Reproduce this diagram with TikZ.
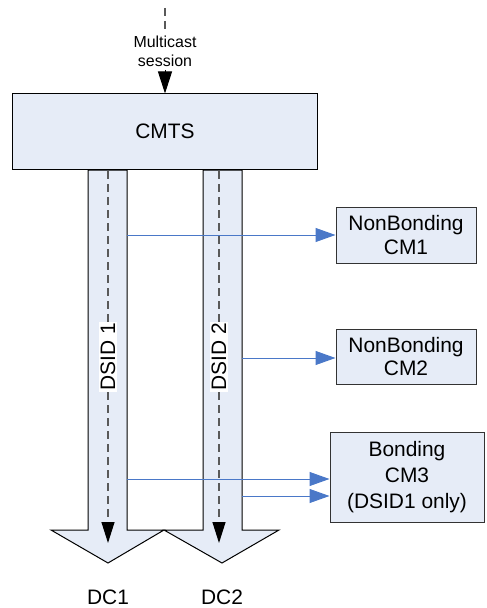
\documentclass[tikz,border=0pt]{standalone}
\usepackage{fontspec}
\setmainfont{Liberation Sans}
\usetikzlibrary{arrows.meta}
\definecolor{boxfill}{HTML}{E6ECF7}
\definecolor{linkblue}{HTML}{4A78C8}

\begin{document}
\begin{tikzpicture}[x=1bp,y=-1bp,
  cmbox/.style={draw=black!80, fill=boxfill, line width=1bp, align=center, inner sep=0pt, font=\fontsize{21}{24}\selectfont},
  column/.style={draw=black, fill=boxfill, line width=1bp, line join=miter},
  flowline/.style={draw=black!65, line width=1.2bp, dash pattern=on 8bp off 5bp},
  link/.style={draw=linkblue, line width=1bp, -{Triangle[length=20bp,width=14bp]}},
  biglabel/.style={font=\fontsize{21}{24}\selectfont}]
\useasboundingbox (0,0) rectangle (487,608);
% headend
\node[draw=black, fill=boxfill, line width=1bp, minimum width=304bp, minimum height=75bp, biglabel] (cmts) at (165,131.5) {CMTS};
\node[font=\fontsize{16}{19}\selectfont, align=center] (msess) at (165,51) {Multicast\\session};
\coordinate (feed) at (165,8);
\draw[flowline] (feed) -- (msess.north);
\draw[line width=1bp, -{Triangle[length=22bp,width=14bp]}] (msess.south) -- (cmts.north);
% downstream channels
\draw[column] (88,170) -- (88,530) -- (51,530) -- (108,563) -- (164,530) -- (127,530) -- (127,170) -- cycle;
\draw[column] (203,170) -- (203,530) -- (164,530) -- (222,563) -- (279,530) -- (242,530) -- (242,170) -- cycle;
\coordinate (d1top) at (108,171);
\coordinate (d1end) at (108,543);
\coordinate (d2top) at (219,171);
\coordinate (d2end) at (219,543);
\draw[flowline, -{Triangle[length=21bp,width=13bp,color=black]}] (d1top) -- (d1end);
\draw[flowline, -{Triangle[length=21bp,width=13bp,color=black]}] (d2top) -- (d2end);
\node[fill=white, inner sep=1.5bp, rotate=90, biglabel] (dsid1) at (108,357) {DSID 1};
\node[fill=white, inner sep=1.5bp, rotate=90, biglabel] (dsid2) at (219,357) {DSID 2};
\node[biglabel] (dc1) at (108,597) {DC1};
\node[biglabel] (dc2) at (222,597) {DC2};
% cable modems
\node[cmbox, minimum width=140bp, minimum height=56bp] (cm1) at (406,235) {NonBonding\\CM1};
\node[cmbox, minimum width=140bp, minimum height=55bp] (cm2) at (406,356.5) {NonBonding\\CM2};
\node[cmbox, minimum width=154bp, minimum height=90bp, font=\fontsize{21}{26.5}\selectfont] (cm3) at (407,477) {Bonding\\CM3\\(DSID1 only)};
\coordinate (s1) at (127,235);
\coordinate (s2) at (242,358);
\coordinate (s3) at (127,479);
\coordinate (s4) at (242,496);
\draw[link] (s1) -- (s1 -| cm1.west);
\draw[link] (s2) -- (s2 -| cm2.west);
\draw[link] (s3) -- (s3 -| cm3.west);
\draw[link] (s4) -- (s4 -| cm3.west);
\end{tikzpicture}
\end{document}
